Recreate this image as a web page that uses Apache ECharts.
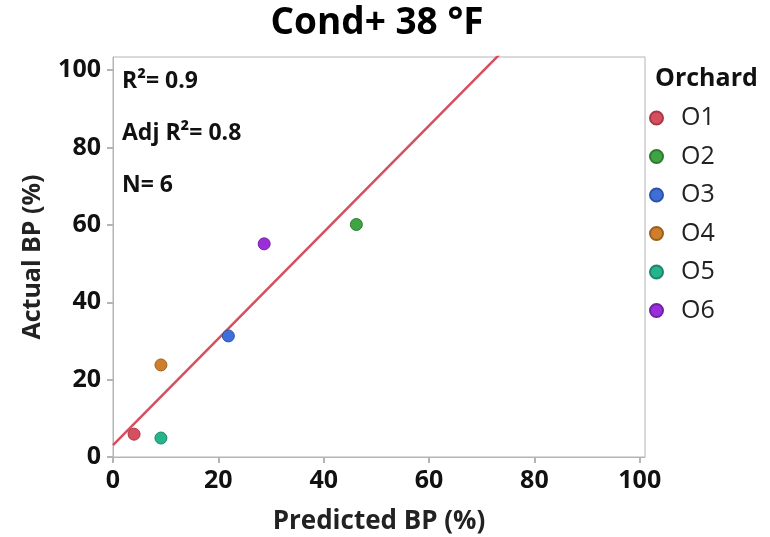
<!DOCTYPE html>
<html>
<head>
<meta charset="utf-8">
<script src="https://cdn.jsdelivr.net/npm/echarts@6/dist/echarts.min.js"></script>
<style>
  html, body { margin: 0; padding: 0; background: #fff; }
  #chart { width: 770px; height: 537px; }
</style>
</head>
<body>
<div id="chart"></div>
<script>
// 每个果园一个点：预测值 / 实际值
var orchards = ["O1", "O2", "O3", "O4", "O5", "O6"];
var predicted = [4.0, 46.2, 21.9, 9.1, 9.1, 28.7];
var actual = [5.9, 60.1, 31.3, 23.8, 4.9, 55.1];
var colors = ["#d64f5f", "#3fa441", "#3e6fd9", "#cf7f2c", "#27b38b", "#9a2edb"];
var borders = ["#a83846", "#2d7a30", "#2c52a8", "#9c5f1f", "#1d8668", "#7420a6"];
// 拟合线
var fitX = [0, 100];
var fitY = [3.1, 140.7];
var stats = ["R²= 0.9", "Adj R²= 0.8", "N= 6"];

var font = "'Open Sans', 'Noto Sans', sans-serif";
var MyEcharts = echarts.init(document.getElementById("chart"));

var series = orchards.map(function (name, i) {
  return {
    name: name,
    type: "scatter",
    symbolSize: 12,
    z: 3,
    itemStyle: { color: colors[i], borderColor: borders[i], borderWidth: 1, opacity: 1 },
    data: [[predicted[i], actual[i]]]
  };
});
series.unshift({
  name: "fit",
  type: "line",
  clip: true,
  symbol: "none",
  silent: true,
  z: 2,
  lineStyle: { color: "#d64f5f", width: 2.5 },
  data: fitX.map(function (x, i) { return [x, fitY[i]]; })
});

function statText(txt, y) {
  return {
    type: "text", x: 122, y: y,
    style: { text: txt, fontFamily: font, fontSize: 23, fontWeight: "bold", fill: "#111", verticalAlign: "middle" }
  };
}

var option = {
  animation: false,
  title: {
    text: "Cond+ 38 °F",
    left: 372,
    textAlign: "center",
    top: 0,
    textStyle: { fontFamily: font, fontSize: 37, fontWeight: "bold", color: "#000" }
  },
  grid: {
    left: 113, right: 125, top: 57, bottom: 80,
    outerBoundsMode: "none",
    containLabel: false,
    show: true, borderColor: "#b4b4b4", borderWidth: 1
  },
  legend: {
    data: orchards,
    orient: "vertical",
    left: 644,
    top: 100,
    itemGap: 12.5,
    icon: "circle",
    itemWidth: 13,
    itemHeight: 13,
    textStyle: { fontFamily: font, fontSize: 25, lineHeight: 26, color: "#222", padding: [0, 0, 0, 13] }
  },
  xAxis: {
    type: "value",
    min: 0, max: 101, interval: 20,
    name: "Predicted BP (%)",
    nameLocation: "middle",
    nameGap: 52,
    nameTextStyle: { fontFamily: font, fontSize: 26, fontWeight: "bold", color: "#222" },
    axisLine: { show: true, lineStyle: { color: "#b4b4b4" } },
    axisTick: { show: true, length: 6, lineStyle: { color: "#b4b4b4", width: 2 } },
    axisLabel: { margin: 11, fontFamily: font, fontSize: 25, fontWeight: "bold", color: "#111", showMaxLabel: false },
    splitLine: { show: false }
  },
  yAxis: {
    type: "value",
    min: 0, max: 103.4, interval: 20,
    name: "Actual BP (%)",
    nameLocation: "middle",
    nameGap: 68,
    nameTextStyle: { fontFamily: font, fontSize: 25, fontWeight: "bold", color: "#222" },
    axisLine: { show: true, lineStyle: { color: "#b4b4b4" } },
    axisTick: { show: true, length: 6, lineStyle: { color: "#b4b4b4", width: 2 } },
    axisLabel: { margin: 12, fontFamily: font, fontSize: 25, fontWeight: "bold", color: "#111" },
    splitLine: { show: false }
  },
  graphic: [
    {
      type: "text", x: 655, y: 79,
      style: { text: "Orchard", fontFamily: font, fontSize: 25, fontWeight: "bold", fill: "#111", verticalAlign: "middle" }
    },
    statText(stats[0], 81),
    statText(stats[1], 133),
    statText(stats[2], 185)
  ],
  series: series
};

MyEcharts.setOption(option, true);
</script>
</body>
</html>
